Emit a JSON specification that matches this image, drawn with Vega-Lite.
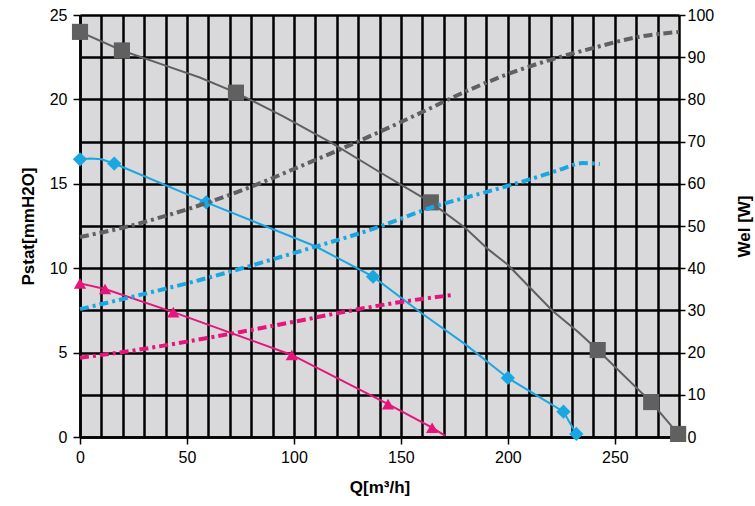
{
  "$schema": "https://vega.github.io/schema/vega-lite/v6.json",
  "width": 599,
  "height": 422,
  "autosize": "none",
  "padding": {"left": 80, "top": 15, "right": 76, "bottom": 69},
  "background": "white",
  "config": {
    "view": {"fill": "#d9d9db", "stroke": null},
    "font": "Liberation Sans",
    "axis": {
      "labelFont": "Liberation Sans",
      "labelFontSize": 16,
      "labelColor": "black",
      "titleFont": "Liberation Sans",
      "titleFontSize": 16,
      "titleFontWeight": "bold",
      "titleColor": "black",
      "domainColor": "black",
      "domainWidth": 2.5,
      "tickColor": "black",
      "tickWidth": 1.5,
      "gridColor": "black",
      "gridWidth": 2.5,
      "gridOpacity": 1
    }
  },
  "datasets": {
    "pressure": [
      {"s": "gray", "q": 0, "v": 24.0, "m": 1},
      {"s": "gray", "q": 19.6, "v": 22.9, "m": 1},
      {"s": "gray", "q": 40, "v": 22.0, "m": 0},
      {"s": "gray", "q": 56, "v": 21.3, "m": 0},
      {"s": "gray", "q": 72.9, "v": 20.4, "m": 1},
      {"s": "gray", "q": 95, "v": 19.0, "m": 0},
      {"s": "gray", "q": 118, "v": 17.4, "m": 0},
      {"s": "gray", "q": 140, "v": 15.7, "m": 0},
      {"s": "gray", "q": 164, "v": 13.9, "m": 1},
      {"s": "gray", "q": 180, "v": 12.4, "m": 0},
      {"s": "gray", "q": 191, "v": 11.1, "m": 0},
      {"s": "gray", "q": 200, "v": 10.2, "m": 0},
      {"s": "gray", "q": 220.7, "v": 7.5, "m": 0},
      {"s": "gray", "q": 233, "v": 6.2, "m": 0},
      {"s": "gray", "q": 242, "v": 5.15, "m": 1},
      {"s": "gray", "q": 267, "v": 2.07, "m": 1},
      {"s": "gray", "q": 279.6, "v": 0.18, "m": 1},
      {"s": "blue", "q": 0, "v": 16.45, "m": 1},
      {"s": "blue", "q": 5, "v": 16.5, "m": 0},
      {"s": "blue", "q": 10, "v": 16.45, "m": 0},
      {"s": "blue", "q": 16, "v": 16.2, "m": 1},
      {"s": "blue", "q": 59, "v": 13.9, "m": 1},
      {"s": "blue", "q": 110, "v": 11.3, "m": 0},
      {"s": "blue", "q": 137, "v": 9.5, "m": 1},
      {"s": "blue", "q": 160, "v": 7.3, "m": 0},
      {"s": "blue", "q": 180, "v": 5.5, "m": 0},
      {"s": "blue", "q": 200, "v": 3.5, "m": 1},
      {"s": "blue", "q": 226, "v": 1.5, "m": 1},
      {"s": "blue", "q": 232, "v": 0.18, "m": 1},
      {"s": "pink", "q": 0, "v": 9.1, "m": 1},
      {"s": "pink", "q": 11.7, "v": 8.77, "m": 1},
      {"s": "pink", "q": 43.6, "v": 7.4, "m": 1},
      {"s": "pink", "q": 99, "v": 4.86, "m": 1},
      {"s": "pink", "q": 144, "v": 1.95, "m": 1},
      {"s": "pink", "q": 164.6, "v": 0.55, "m": 1},
      {"s": "pink", "q": 170.6, "v": 0.08, "m": 0}
    ],
    "power": [
      {"s": "gray", "q": 0, "w": 47.4},
      {"s": "gray", "q": 20, "w": 49.6},
      {"s": "gray", "q": 40, "w": 52.4},
      {"s": "gray", "q": 60, "w": 55.6},
      {"s": "gray", "q": 80, "w": 59.3},
      {"s": "gray", "q": 100, "w": 63.5},
      {"s": "gray", "q": 120, "w": 67.8},
      {"s": "gray", "q": 140, "w": 72.3},
      {"s": "gray", "q": 160, "w": 77.0},
      {"s": "gray", "q": 180, "w": 81.8},
      {"s": "gray", "q": 200, "w": 86.0},
      {"s": "gray", "q": 220, "w": 89.4},
      {"s": "gray", "q": 240, "w": 92.2},
      {"s": "gray", "q": 260, "w": 94.7},
      {"s": "gray", "q": 280, "w": 96.0},
      {"s": "blue", "q": 0, "w": 30.3},
      {"s": "blue", "q": 25, "w": 33.3},
      {"s": "blue", "q": 56, "w": 37.2},
      {"s": "blue", "q": 100, "w": 43.6},
      {"s": "blue", "q": 138, "w": 49.5},
      {"s": "blue", "q": 165, "w": 54.5},
      {"s": "blue", "q": 193, "w": 58.5},
      {"s": "blue", "q": 215, "w": 61.8},
      {"s": "blue", "q": 224, "w": 63.3},
      {"s": "blue", "q": 235, "w": 64.9},
      {"s": "blue", "q": 243, "w": 64.7},
      {"s": "pink", "q": 0, "w": 18.8},
      {"s": "pink", "q": 25, "w": 20.5},
      {"s": "pink", "q": 50, "w": 22.6},
      {"s": "pink", "q": 75, "w": 24.9},
      {"s": "pink", "q": 100, "w": 27.3},
      {"s": "pink", "q": 125, "w": 29.8},
      {"s": "pink", "q": 150, "w": 32.0},
      {"s": "pink", "q": 175, "w": 33.7}
    ]
  },
  "encoding": {
    "x": {
      "field": "q",
      "type": "quantitative",
      "scale": {"domain": [0, 280], "nice": false, "zero": false},
      "axis": {
        "title": "Q[m³/h]",
        "titlePadding": 14,
        "titleFontSize": 17,
        "values": [0, 10, 20, 30, 40, 50, 60, 70, 80, 90, 100, 110, 120, 130, 140, 150, 160, 170, 180, 190, 200, 210, 220, 230, 240, 250, 260, 270, 280],
        "labelExpr": "datum.value % 50 === 0 ? datum.label : ''",
        "tickSize": 7,
        "tickOpacity": {"condition": {"test": "datum.value % 50 === 0 && datum.value < 280", "value": 1}, "value": 0},
        "labelPadding": 5,
        "labelFlush": false,
        "grid": true
      }
    },
    "color": {
      "field": "s",
      "type": "nominal",
      "scale": {"domain": ["gray", "blue", "pink"], "range": ["#606060", "#1aa7e1", "#e5157b"]},
      "legend": null
    }
  },
  "layer": [
    {
      "data": {"name": "pressure"},
      "encoding": {
        "y": {
          "field": "v",
          "type": "quantitative",
          "scale": {"domain": [0, 25], "nice": false},
          "axis": {
            "orient": "left",
            "title": "Pstat[mmH2O]",
            "titleFontSize": 17,
            "titlePadding": 12,
            "values": [0, 2.5, 5, 7.5, 10, 12.5, 15, 17.5, 20, 22.5, 25],
            "labelExpr": "datum.value % 5 === 0 ? datum.label : ''",
            "tickSize": 7,
            "tickOpacity": {"condition": {"test": "datum.value % 5 === 0", "value": 1}, "value": 0},
            "labelPadding": 6,
            "labelFlush": false,
            "grid": true
          }
        }
      },
      "layer": [
        {
          "mark": {"type": "line", "strokeWidth": 2},
          "encoding": {"detail": {"field": "s"}}
        },
        {
          "transform": [{"filter": "datum.m === 1"}],
          "mark": {"type": "point", "filled": true, "opacity": 1},
          "encoding": {
            "shape": {
              "field": "s",
              "type": "nominal",
              "scale": {"domain": ["gray", "blue", "pink"], "range": ["square", "diamond", "triangle-up"]},
              "legend": null
            },
            "size": {
              "field": "s",
              "type": "nominal",
              "scale": {"domain": ["gray", "blue", "pink"], "range": [260, 150, 180]},
              "legend": null
            }
          }
        }
      ]
    },
    {
      "data": {"name": "power"},
      "mark": {"type": "line", "strokeWidth": 4, "strokeDash": [9, 4, 3, 4], "interpolate": "monotone"},
      "encoding": {
        "detail": {"field": "s"},
        "y": {
          "field": "w",
          "type": "quantitative",
          "scale": {"domain": [0, 100], "nice": false},
          "axis": {
            "orient": "right",
            "title": "Wel [W]",
            "titleFontSize": 17,
            "titleAngle": 270,
            "titlePadding": 40,
            "values": [0, 10, 20, 30, 40, 50, 60, 70, 80, 90, 100],
            "tickSize": 6,
            "labelPadding": 2,
            "labelFlush": false,
            "domain": false,
            "grid": false
          }
        }
      }
    }
  ],
  "resolve": {"scale": {"y": "independent"}}
}
